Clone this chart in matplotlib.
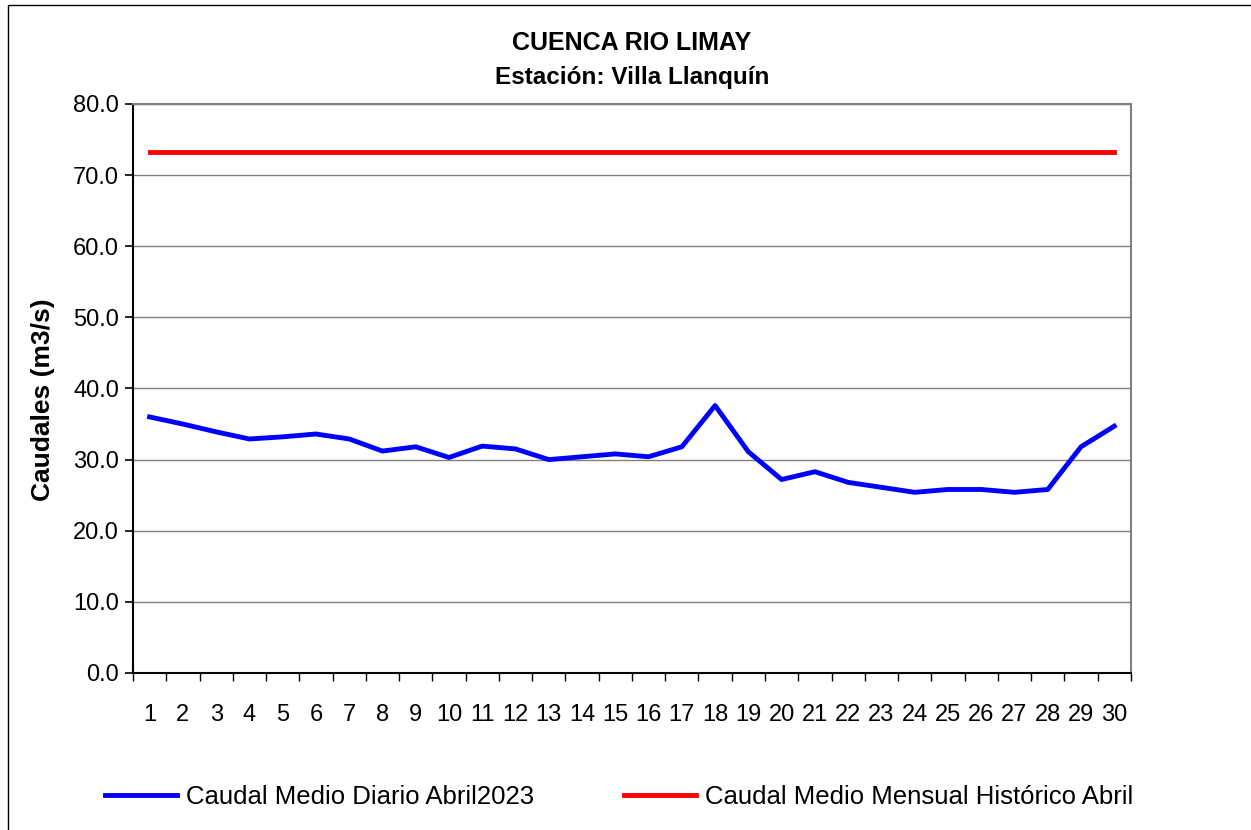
import matplotlib
matplotlib.use('Agg')
import matplotlib.pyplot as plt
from matplotlib.ticker import MultipleLocator, FixedLocator, NullFormatter, FixedFormatter, FuncFormatter
from matplotlib.patches import Rectangle

dias = list(range(1, 31))
caudal_diario = [36.0, 35.0, 33.9, 32.9, 33.2, 33.6, 32.9, 31.2, 31.8, 30.3,
                 31.9, 31.5, 30.0, 30.4, 30.8, 30.4, 31.8, 37.6, 31.1, 27.2,
                 28.3, 26.8, 26.1, 25.4, 25.8, 25.8, 25.4, 25.8, 31.8, 34.7]
caudal_historico = [73.3] * 30

plt.rcParams['font.family'] = ['Liberation Sans', 'DejaVu Sans']

fig = plt.figure(figsize=(12.51, 8.3), dpi=100)
fig.patches.append(Rectangle((0.006, -0.01), 1.2, 1.004, transform=fig.transFigure,
                             fill=False, edgecolor='black', linewidth=1))
ax = fig.add_axes([0.1063, 0.1892, 0.7977, 0.6855])

ax.plot(dias, caudal_diario, color='#0000FF', linewidth=3.5, label='Caudal Medio Diario Abril2023')
ax.plot(dias, caudal_historico, color='#FF0000', linewidth=3.5, label='Caudal Medio Mensual Histórico Abril')

ax.set_xlim(0.5, 30.5)
ax.set_ylim(0, 80)
ax.yaxis.set_major_locator(MultipleLocator(10))
ax.yaxis.set_major_formatter(FuncFormatter(lambda v, p: f'{v:.1f}'))
ax.tick_params(axis='y', labelsize=17, length=6, width=1.2, direction='out', pad=4)

ax.xaxis.set_major_locator(FixedLocator([d - 0.5 for d in range(1, 32)]))
ax.xaxis.set_major_formatter(NullFormatter())
ax.xaxis.set_minor_locator(FixedLocator(dias))
ax.xaxis.set_minor_formatter(FixedFormatter([str(d) for d in dias]))
ax.tick_params(axis='x', which='major', length=6, width=1, direction='out')
ax.tick_params(axis='x', which='minor', length=0, labelsize=17, pad=22)

ax.grid(axis='y', color='#808080', linewidth=1)
ax.set_axisbelow(True)
for s in ['top', 'right']:
    ax.spines[s].set_color('#808080')
    ax.spines[s].set_linewidth(1.5)
for s in ['left', 'bottom']:
    ax.spines[s].set_color('black')
    ax.spines[s].set_linewidth(1.5)

ax.set_ylabel('Caudales (m3/s)', fontsize=19, fontweight='bold')
ax.yaxis.set_label_coords(-0.078, 0.48)
fig.text(0.505, 0.948, 'CUENCA RIO LIMAY', ha='center', va='center',
         fontsize=18, fontweight='bold')
fig.text(0.505, 0.907, 'Estación: Villa Llanquín', ha='center', va='center',
         fontsize=17.5, fontweight='bold')

fig.legend(loc='center', bbox_to_anchor=(0.495, 0.04), ncol=2, frameon=False,
           fontsize=18.5, handlelength=2.8, handletextpad=0.35, columnspacing=3.5)

fig.savefig('out.png', dpi=100)
